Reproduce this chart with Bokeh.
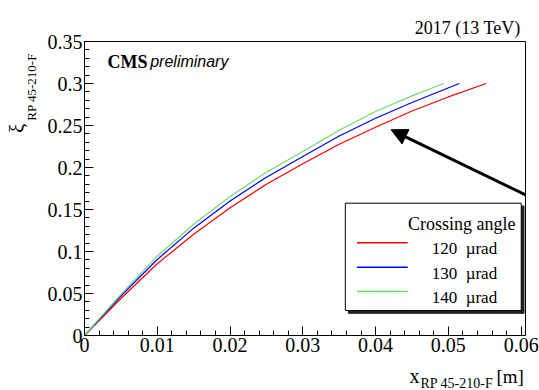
import math
from bokeh.plotting import figure
from bokeh.layouts import row, column
from bokeh.models import (Range1d, FixedTicker, Label, BoxAnnotation, Arrow, NormalHead)
from bokeh.embed import file_html
from bokeh.resources import INLINE

# ---- data ----
RED_X = [0.0, 0.005, 0.01, 0.015, 0.02, 0.025, 0.03, 0.035, 0.04, 0.045, 0.05, 0.0552]
RED_Y = [0.0, 0.044, 0.0854, 0.1205, 0.152, 0.180, 0.2044, 0.2277, 0.248, 0.2672, 0.284, 0.300]
BLUE_X = [0.0, 0.005, 0.01, 0.015, 0.02, 0.025, 0.03, 0.035, 0.04, 0.045, 0.0515]
BLUE_Y = [0.0, 0.047, 0.0905, 0.1278, 0.160, 0.1885, 0.213, 0.2374, 0.2587, 0.2774, 0.300]
GREEN_X = [0.0, 0.005, 0.01, 0.015, 0.02, 0.025, 0.03, 0.035, 0.04, 0.045, 0.0494]
GREEN_Y = [0.0, 0.049, 0.0944, 0.1325, 0.1655, 0.1943, 0.219, 0.2444, 0.2667, 0.2853, 0.300]
SERIES_LABELS = ["120  µrad", "130  µrad", "140  µrad"]
SERIES_COLORS = ["#ff0000", "#0000ff", "#6ddc6d"]
LEGEND_TITLE = "Crossing angle"

X_TICKS = [0.0, 0.01, 0.02, 0.03, 0.04, 0.05, 0.06]
X_TICK_LABELS = ["0", "0.01", "0.02", "0.03", "0.04", "0.05", "0.06"]
Y_TICKS = [0.0, 0.05, 0.1, 0.15, 0.2, 0.25, 0.3, 0.35]
Y_TICK_LABELS = ["0", "0.05", "0.1", "0.15", "0.2", "0.25", "0.3", "0.35"]

XMAX = 0.0606
YMAX = 0.35

# canvas geometry in pixels
W, H = 539, 390
FL, FR, FT, FB = 82, 525, 41, 335
LEFT_W = 44          # left strip (y-axis title)
BOTTOM_H = 26        # bottom strip (x-axis title)
MAIN_H = H - BOTTOM_H


def dx(px):
    return (px - FL) / (FR - FL) * XMAX


def dy(py):
    return (FB - py) / (FB - FT) * YMAX


SERIF = "Liberation Serif"
SANS = "Liberation Sans"


def strip(w, h):
    f = figure(width=w, height=h, output_backend="svg", toolbar_location=None,
               x_range=Range1d(0, w), y_range=Range1d(0, h),
               x_axis_type=None, y_axis_type=None, min_border=0)
    f.grid.visible = False
    f.outline_line_color = None
    f.background_fill_color = "white"
    f.border_fill_color = "white"
    return f


p = figure(width=W - LEFT_W, height=MAIN_H, output_backend="svg", toolbar_location=None,
           x_range=Range1d(0, XMAX), y_range=Range1d(0, YMAX),
           min_border_left=FL - LEFT_W, min_border_right=W - FR,
           min_border_top=FT, min_border_bottom=MAIN_H - FB)
p.grid.visible = False
p.outline_line_color = "black"
p.outline_line_width = 1
p.background_fill_color = "white"
p.border_fill_color = "white"

p.title.text = "2017 (13 TeV)"
p.title.align = "right"
p.title.offset = 5
p.title.standoff = 8
p.title.text_font = SERIF
p.title.text_font_size = "18px"
p.title.text_font_style = "normal"
p.title.text_color = "black"

x_minor = [round(i * 0.002, 4) for i in range(0, 31)]
y_minor = [round(i * 0.01, 3) for i in range(0, 36)]
p.xaxis.ticker = FixedTicker(ticks=X_TICKS, minor_ticks=x_minor)
p.yaxis.ticker = FixedTicker(ticks=Y_TICKS, minor_ticks=y_minor)
p.xaxis.major_label_overrides = dict(zip(X_TICKS, X_TICK_LABELS))
p.yaxis.major_label_overrides = dict(zip(Y_TICKS, Y_TICK_LABELS))

for ax in (p.xaxis[0], p.yaxis[0]):
    ax.major_tick_in = 9
    ax.major_tick_out = 0
    ax.minor_tick_in = 5
    ax.minor_tick_out = 0
    ax.axis_line_color = "black"
    ax.major_tick_line_color = "black"
    ax.minor_tick_line_color = "black"
    ax.major_label_text_font = SERIF
    ax.major_label_text_font_size = "20px"
    ax.major_label_text_color = "black"
    ax.major_label_standoff = 2

for xs, ys, c in zip([RED_X, BLUE_X, GREEN_X], [RED_Y, BLUE_Y, GREEN_Y], SERIES_COLORS):
    p.line(xs, ys, line_color=c, line_width=1.2)

# legend box with shadow (drawn beneath the glyph level)
shadow = BoxAnnotation(left=dx(347), right=dx(523.5), top=dy(205.5), bottom=dy(312.8),
                       fill_color="#222222", fill_alpha=1, line_color="#222222", line_alpha=1,
                       level="underlay")
box = BoxAnnotation(left=dx(344), right=dx(520.7), top=dy(202.7), bottom=dy(310),
                    fill_color="white", fill_alpha=1, line_color="black", line_width=1,
                    line_alpha=1, level="underlay")
p.add_layout(shadow)
p.add_layout(box)
p.add_layout(Label(x=dx(515), y=dy(223.3), text=LEGEND_TITLE, text_align="right",
                   text_baseline="alphabetic", text_font=SERIF, text_font_size="18px",
                   text_color="black"))

# legend entries (non-breaking spaces keep the wide gap of the original)
row_line_y = [242.3, 266.7, 291.0]
row_text_y = [248.3, 272.6, 296.8]
for lab, c, ly, ty in zip(SERIES_LABELS, SERIES_COLORS, row_line_y, row_text_y):
    p.line([dx(355.7), dx(406.7)], [dy(ly), dy(ly)], line_color=c, line_width=1.4)
    p.add_layout(Label(x=dx(430.7), y=dy(ty), text=lab.replace(" ", "\u00a0"),
                       text_align="left", text_baseline="alphabetic", text_font=SERIF,
                       text_font_size="17px", text_color="black"))

# texts inside the frame
p.add_layout(Label(x=dx(105), y=dy(61), text="CMS", text_align="left",
                   text_baseline="alphabetic", text_font=SERIF, text_font_size="18px",
                   text_font_style="bold", text_color="black"))
p.add_layout(Label(x=dx(148), y=dy(61), text="preliminary", text_align="left",
                   text_baseline="alphabetic", text_font=SANS, text_font_size="16px",
                   text_font_style="italic", text_color="black"))

# arrow (clipped at the frame)
p.add_layout(Arrow(end=NormalHead(size=16, fill_color="black", line_color="black"),
                   x_start=dx(548), y_start=dy(205.5), x_end=dx(390), y_end=dy(129.3),
                   line_width=3, line_color="black"))

# left strip: y-axis title (canvas px -> local: x = cx, y = MAIN_H - cy)
left = strip(LEFT_W, MAIN_H)
left.add_layout(Label(x=16, y=MAIN_H - 113, text="ξ", angle=math.pi / 2, text_align="left",
                      text_baseline="alphabetic", text_font=SERIF, text_font_size="20px",
                      text_color="black"))
left.add_layout(Label(x=31, y=MAIN_H - 98, text="RP 45-210-F", angle=math.pi / 2,
                      text_align="left", text_baseline="alphabetic", text_font=SERIF,
                      text_font_size="13px", text_color="black"))

# bottom strip: x-axis title (local: x = cx, y = H - cy)
bottom = strip(W, BOTTOM_H)
bottom.add_layout(Label(x=409, y=H - 375, text="x", text_align="left",
                        text_baseline="alphabetic", text_font=SERIF, text_font_size="20px",
                        text_color="black"))
bottom.add_layout(Label(x=420, y=H - 382.7, text="RP 45-210-F", text_align="left",
                        text_baseline="alphabetic", text_font=SERIF, text_font_size="14px",
                        text_color="black"))
bottom.add_layout(Label(x=496, y=H - 376, text="[m]", text_align="left",
                        text_baseline="alphabetic", text_font=SERIF, text_font_size="19px",
                        text_color="black"))

layout = column(row(left, p, spacing=0), bottom, spacing=0)
open("out.html", "w").write(file_html(layout, INLINE))
